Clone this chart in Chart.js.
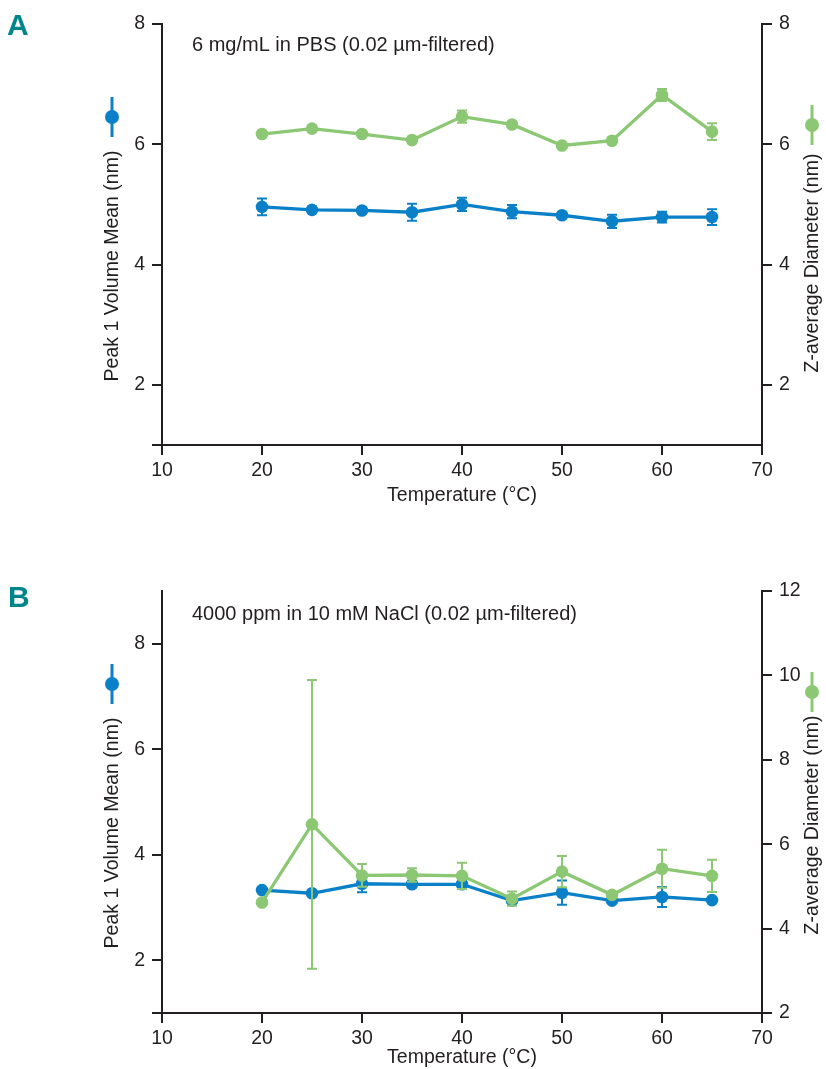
<!DOCTYPE html>
<html><head><meta charset="utf-8">
<script src="https://cdn.jsdelivr.net/npm/chart.js@4.4.1/dist/chart.umd.min.js"></script>
<style>
html,body{margin:0;padding:0;background:#fff;}
body{width:826px;height:1069px;position:relative;overflow:hidden;}
canvas{position:absolute;left:0;}
#ca{top:0;}
#cb{top:540px;}
</style></head><body>
<canvas id="ca" width="826" height="540"></canvas>
<canvas id="cb" width="826" height="529"></canvas>
<script>
// ---- data ----
const temperatures = [20, 25, 30, 35, 40, 45, 50, 55, 60, 65];
const xTicks = [10, 20, 30, 40, 50, 60, 70];
// Panel A: 6 mg/mL in PBS
const peakA    = [4.96, 4.91, 4.90, 4.87, 5.00, 4.88, 4.82, 4.72, 4.79, 4.79];
const peakErrA = [0.14, 0.05, 0.05, 0.14, 0.11, 0.11, 0.05, 0.11, 0.09, 0.13];
const zavgA    = [6.17, 6.26, 6.17, 6.07, 6.46, 6.33, 5.98, 6.06, 6.82, 6.21];
const zavgErrA = [0.04, 0.04, 0.04, 0.04, 0.10, 0.04, 0.04, 0.04, 0.10, 0.14];
const leftTicksA  = [2, 4, 6, 8];
const rightTicksA = [2, 4, 6, 8];
// Panel B: 4000 ppm in 10 mM NaCl
const peakB    = [3.33, 3.27, 3.45, 3.44, 3.44, 3.13, 3.28, 3.13, 3.20, 3.14];
const peakErrB = [0.03, 0.03, 0.16, 0.06, 0.08, 0.04, 0.23, 0.04, 0.19, 0.04];
const zavgB    = [4.62, 6.47, 5.26, 5.27, 5.25, 4.71, 5.35, 4.80, 5.42, 5.25];
const zavgErrB = [0.00, 3.42, 0.27, 0.16, 0.31, 0.17, 0.37, 0.05, 0.45, 0.38];
const leftTicksB  = [2, 4, 6, 8];
const rightTicksB = [2, 4, 6, 8, 10, 12];

// ---- style ----
const INK = '#231f20';
const BLUE = '#0a80c8';
const GREEN = '#8cc874';
const TEAL = '#00868a';
const FONT = '"Liberation Sans", Arial, Helvetica, sans-serif';
const FS = 19.5;

function pts(xs, ys) { return xs.map((x, i) => ({ x: x, y: ys[i] })); }

const errorBars = {
  id: 'errorBars',
  afterDatasetDraw(chart, args) {
    const ds = chart.data.datasets[args.index];
    if (!ds.errors) return;
    const ys = chart.scales[ds.yAxisID];
    const ctx = chart.ctx;
    ctx.save();
    ctx.strokeStyle = ds.borderColor;
    ctx.lineWidth = 2;
    args.meta.data.forEach((pt, i) => {
      const e = ds.errors[i];
      if (!e) return;
      const v = ds.data[i].y;
      const y1 = ys.getPixelForValue(v + e), y2 = ys.getPixelForValue(v - e);
      ctx.beginPath();
      ctx.moveTo(pt.x, y1); ctx.lineTo(pt.x, y2);
      ctx.moveTo(pt.x - 5, y1); ctx.lineTo(pt.x + 5, y1);
      ctx.moveTo(pt.x - 5, y2); ctx.lineTo(pt.x + 5, y2);
      ctx.stroke();
    });
    ctx.restore();
  }
};

const deco = {
  id: 'deco',
  afterDraw(chart, args, o) {
    const ctx = chart.ctx;
    ctx.save();
    ctx.textAlign = 'left';
    ctx.textBaseline = 'alphabetic';
    ctx.fillStyle = TEAL;
    ctx.font = 'bold 30px ' + FONT;
    ctx.fillText(o.letter, o.letterX, o.letterY);
    ctx.fillStyle = INK;
    ctx.font = '20px ' + FONT;
    ctx.fillText(o.note, o.noteX, o.noteY);
    // rotated axis titles
    ctx.font = FS + 'px ' + FONT;
    ctx.textAlign = 'center';
    ctx.textBaseline = 'middle';
    [[o.leftTitle, o.leftTitleX, o.leftTitleY], [o.rightTitle, o.rightTitleX, o.rightTitleY]].forEach(t => {
      ctx.save();
      ctx.translate(t[1], t[2]);
      ctx.rotate(-Math.PI / 2);
      ctx.fillText(t[0], 0, 0);
      ctx.restore();
    });
    // series key icons
    [[BLUE, o.leftIcon], [GREEN, o.rightIcon]].forEach(k => {
      const c = k[0], p = k[1];
      ctx.strokeStyle = c; ctx.fillStyle = c; ctx.lineWidth = 3;
      ctx.beginPath(); ctx.moveTo(p[0], p[1] - 20); ctx.lineTo(p[0], p[1] + 20); ctx.stroke();
      ctx.beginPath(); ctx.arc(p[0], p[1], 7, 0, Math.PI * 2); ctx.fill();
    });
    ctx.restore();
  }
};

function makeChart(id, cfg) {
  const H = cfg.height;
  const lineDs = (label, ys, errs, axis, color, order) => ({
    label: label, data: pts(temperatures, ys), errors: errs, yAxisID: axis,
    borderColor: color, backgroundColor: color, pointBackgroundColor: color, pointBorderColor: color,
    borderWidth: 3.3, pointRadius: 6.3, pointBorderWidth: 0, pointHoverRadius: 6.3,
    tension: 0, order: order, clip: false
  });
  const yAxis = (pos, min, max, ticks, withMin) => ({
    type: 'linear', position: pos, min: min, max: max,
    afterBuildTicks: s => { s.ticks = (withMin ? [min] : []).concat(ticks).map(v => ({ value: v })); },
    afterFit: s => { s.width = pos === 'left' ? 162 : 64; },
    grid: { drawOnChartArea: false, drawTicks: true, tickLength: 10, color: INK, lineWidth: 2 },
    border: { display: true, color: INK, width: 2 },
    ticks: { color: INK, font: { family: FONT, size: FS }, padding: 7,
             callback: v => (withMin && v === min) ? '' : String(v) }
  });
  return new Chart(document.getElementById(id), {
    type: 'line',
    data: { datasets: [
      lineDs('Z-average Diameter (nm)', cfg.zavg, cfg.zavgErr, 'yR', GREEN, 0),
      lineDs('Peak 1 Volume Mean (nm)', cfg.peak, cfg.peakErr, 'yL', BLUE, 1)
    ] },
    plugins: [errorBars, deco],
    options: {
      responsive: false, animation: false, devicePixelRatio: 1,
      layout: { padding: { top: cfg.top, left: 0, right: 0, bottom: 0 } },
      events: [],
      plugins: { legend: { display: false }, tooltip: { enabled: false }, deco: cfg.deco },
      scales: {
        x: {
          type: 'linear', position: 'bottom', min: 10, max: 70,
          afterBuildTicks: s => { s.ticks = xTicks.map(v => ({ value: v })); },
          afterFit: s => { s.height = H - cfg.bottom; },
          grid: { drawOnChartArea: false, drawTicks: true, tickLength: 10, color: INK, lineWidth: 2 },
          border: { display: true, color: INK, width: 2 },
          ticks: { color: INK, font: { family: FONT, size: FS }, padding: 4, maxRotation: 0 },
          title: { display: true, text: 'Temperature (°C)', color: INK, font: { family: FONT, size: FS },
                   padding: { top: 0, bottom: cfg.xTitlePad } }
        },
        yL: yAxis('left', cfg.lMin, cfg.lMax, cfg.lTicks, true),
        yR: yAxis('right', cfg.rMin, cfg.rMax, cfg.rTicks, false)
      }
    }
  });
}

makeChart('ca', {
  height: 540, top: 24, bottom: 445, xTitlePad: 33,
  peak: peakA, peakErr: peakErrA, zavg: zavgA, zavgErr: zavgErrA,
  lMin: 1, lMax: 8, lTicks: leftTicksA, rMin: 1, rMax: 8, rTicks: rightTicksA,
  deco: {
    letter: 'A', letterX: 7, letterY: 35,
    note: '6 mg/mL in PBS (0.02 µm-filtered)', noteX: 192, noteY: 51,
    leftTitle: 'Peak 1 Volume Mean (nm)', leftTitleX: 113, leftTitleY: 266,
    rightTitle: 'Z-average Diameter (nm)', rightTitleX: 813, rightTitleY: 263,
    leftIcon: [112, 117], rightIcon: [812, 125]
  }
});

makeChart('cb', {
  height: 529, top: 51, bottom: 473, xTitlePad: 0,
  peak: peakB, peakErr: peakErrB, zavg: zavgB, zavgErr: zavgErrB,
  lMin: 1, lMax: 9, lTicks: leftTicksB, rMin: 2, rMax: 12, rTicks: rightTicksB,
  deco: {
    letter: 'B', letterX: 8, letterY: 67,
    note: '4000 ppm in 10 mM NaCl (0.02 µm-filtered)', noteX: 192, noteY: 80,
    leftTitle: 'Peak 1 Volume Mean (nm)', leftTitleX: 113, leftTitleY: 293,
    rightTitle: 'Z-average Diameter (nm)', rightTitleX: 813, rightTitleY: 285,
    leftIcon: [112, 144], rightIcon: [812, 152]
  }
});
</script>
</body></html>
